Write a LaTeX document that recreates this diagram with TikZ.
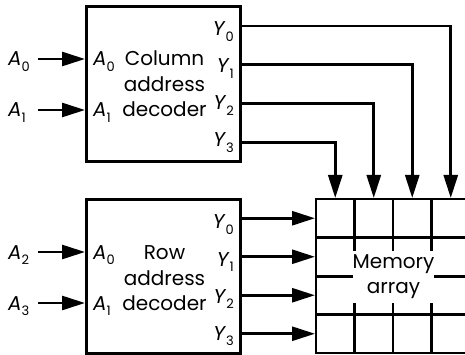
\documentclass[tikz,border=0pt]{standalone}
\usepackage{fontspec}
\setmainfont{Poppins}
\usetikzlibrary{arrows.meta}
\newcommand\lab[2]{\textit{#1}\raisebox{-0.28em}{\fontsize{13}{13}\selectfont #2}}
\begin{document}
\begin{tikzpicture}[x=1pt,y=-1pt,
  box/.style={draw,line width=3pt,inner sep=0pt},
  wire/.style={line width=2.7pt},
  arr/.style={wire,-{Triangle[length=23pt,width=14pt]}},
  gridline/.style={line width=2.8pt,line cap=rect},
  lbl/.style={inner sep=0pt,font=\fontsize{20}{20}\selectfont},
]
\useasboundingbox (0,0) rectangle (465,355);
% decoder boxes
\node[box,minimum width=154pt,minimum height=155pt] (cd) at (163,84.5) {};
\node[box,minimum width=154pt,minimum height=153.5pt] (rd) at (163,276.25) {};
% column decoder texts
\node[lbl,anchor=base] (ct1) at (164.5,66) {Column};
\node[lbl,anchor=base] (ct2) at (164.5,92) {address};
\node[lbl,anchor=base] (ct3) at (164.5,117) {decoder};
\node[lbl,anchor=base west] (cia0) at (93,66) {\lab{A}{0}};
\node[lbl,anchor=base west] (cia1) at (93,117) {\lab{A}{1}};
% row decoder texts
\node[lbl,anchor=base] (rt1) at (164.5,259) {Row};
\node[lbl,anchor=base] (rt2) at (164.5,285) {address};
\node[lbl,anchor=base] (rt3) at (164.5,310) {decoder};
\node[lbl,anchor=base west] (ria0) at (93,259) {\lab{A}{0}};
\node[lbl,anchor=base west] (ria1) at (93,310) {\lab{A}{1}};
% Y labels
\foreach \i/\y in {0/36,1/73,2/110,3/147}{
  \node[lbl,anchor=base east] (cyl\i) at (234,\y) {\lab{Y}{\i}};
}
\foreach \i/\y in {0/229,1/266,2/303,3/340}{
  \node[lbl,anchor=base east] (ryl\i) at (234,\y) {\lab{Y}{\i}};
}
% external inputs
\node[lbl,anchor=base west] (a0) at (8,66) {\lab{A}{0}};
\node[lbl,anchor=base west] (a1) at (8,117) {\lab{A}{1}};
\node[lbl,anchor=base west] (a2) at (8,259) {\lab{A}{2}};
\node[lbl,anchor=base west] (a3) at (8,310) {\lab{A}{3}};
\coordinate (ci0) at (85,59);
\coordinate (ci1) at (85,110);
\coordinate (ri0) at (85,252);
\coordinate (ri1) at (85,303);
\draw[arr] (38,0 |- ci0) -- (ci0);
\draw[arr] (38,0 |- ci1) -- (ci1);
\draw[arr] (38,0 |- ri0) -- (ri0);
\draw[arr] (38,0 |- ri1) -- (ri1);
% memory grid
\foreach \x in {316,354.5,393,431.5}{
  \draw[gridline] (\x,199) -- (\x,353);
}
\foreach \y in {199,237.5,276.5,314.5,353}{
  \draw[gridline] (316,\y) -- (472,\y);
}
\node[fill=white,inner sep=0pt,minimum width=80pt,minimum height=52pt,
      align=center,font=\fontsize{20}{25}\selectfont] (mem) at (393.5,277) {Memory\\array};
% column decoder outputs
\coordinate (cy0) at (240,26);
\coordinate (cy1) at (240,64.5);
\coordinate (cy2) at (240,103.5);
\coordinate (cy3) at (240,142.5);
\coordinate (mc0) at (450.75,198);
\coordinate (mc1) at (412.25,198);
\coordinate (mc2) at (373.75,198);
\coordinate (mc3) at (335.25,198);
\foreach \i in {0,1,2,3}{
  \draw[arr] (cy\i) -| (mc\i);
}
% row decoder outputs
\coordinate (ry0) at (240,218.25);
\coordinate (ry1) at (240,256.75);
\coordinate (ry2) at (240,295.25);
\coordinate (ry3) at (240,333.75);
\coordinate (mr0) at (315,218.25);
\coordinate (mr1) at (315,256.75);
\coordinate (mr2) at (315,295.25);
\coordinate (mr3) at (315,333.75);
\foreach \i in {0,1,2,3}{
  \draw[arr] (ry\i) -- (mr\i);
}
\end{tikzpicture}
\end{document}
